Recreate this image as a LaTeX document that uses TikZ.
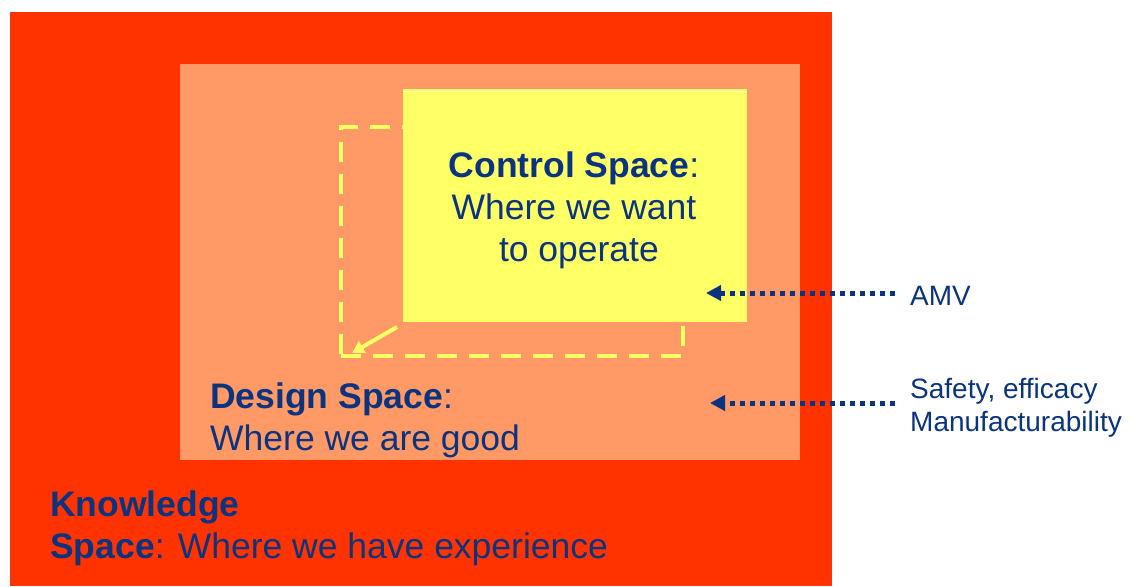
\documentclass[tikz,border=0pt]{standalone}
\usepackage{fontspec}
\setmainfont{Liberation Sans}
\usetikzlibrary{arrows.meta}
\definecolor{knowred}{HTML}{FF3300}
\definecolor{desorange}{HTML}{FF9966}
\definecolor{ctlyellow}{HTML}{FFFF66}
\definecolor{navy}{HTML}{0B3480}
\tikzset{
  area/.style={inner sep=0pt, outer sep=0pt, anchor=north west},
  bigtext/.style={text=navy, font=\fontsize{35.5}{42}\selectfont, inner sep=0pt},
  smalltext/.style={text=navy, font=\fontsize{28}{33}\selectfont, inner sep=0pt, align=left, anchor=west},
  dotarrow/.style={draw=navy, line width=5pt, dash pattern=on 5pt off 5pt, -{Triangle[length=15pt,width=15pt]}},
}
\begin{document}
\begin{tikzpicture}[x=1pt,y=-1pt]
\useasboundingbox (0,0) rectangle (1131,586);
% knowledge space
\node[area, fill=knowred, minimum width=822pt, minimum height=574pt] (know) at (10,12) {};
% design space
\node[area, fill=desorange, minimum width=620pt, minimum height=396pt] (design) at (180,64) {};
% dashed shifted control space
\node[area, draw=ctlyellow, line width=4.5pt, dash pattern=on 20pt off 12pt, minimum width=342pt, minimum height=229pt] (shifted) at (341,127) {};
% control space
\node[area, fill=ctlyellow, minimum width=344pt, minimum height=233pt] (control) at (403,89) {};
\draw[white!55!ctlyellow, line width=0.8pt] ([yshift=-2.5pt]control.north west) -- ([yshift=-2.5pt]control.north east);
% small yellow arrow
\coordinate (sa1) at (397,327);
\coordinate (sa2) at (352,353);
\draw[ctlyellow, line width=4pt, -{Triangle[length=12pt,width=13pt]}] (sa1) -- (sa2);
% texts
\node[bigtext, align=center] (ctltext) at (574,210) {\textbf{Control Space}:\\Where we want\\\ to operate};
\node[bigtext, align=left, anchor=west] (destext) at (210,420) {\textbf{Design Space}:\\Where we are good};
\node[bigtext, align=left, anchor=west] (knowtext) at (50,528) {\textbf{Knowledge}\\\textbf{Space}: Where we have experience};
% side labels
\node[smalltext] (amv) at (910,296) {AMV};
\node[smalltext] (safe) at (910,408) {Safety, efficacy\\Manufacturability};
\coordinate (amvstart) at (895,293);
\coordinate (safestart) at (895,403);
\coordinate (amvend) at (706,293);
\coordinate (safeend) at (710,403);
\draw[dotarrow] (amvstart) -- (amvend);
\draw[dotarrow] (safestart) -- (safeend);
\end{tikzpicture}
\end{document}
